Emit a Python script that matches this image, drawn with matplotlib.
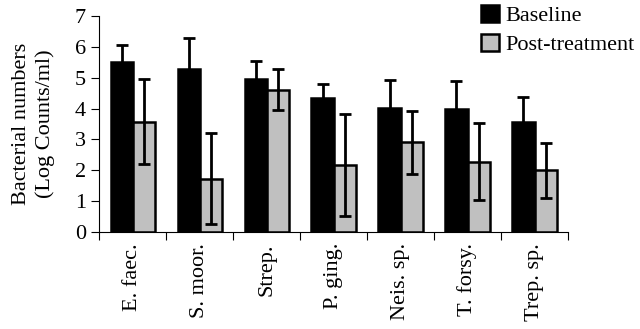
import numpy as np
import matplotlib.pyplot as plt
import matplotlib

matplotlib.rcParams['font.family'] = 'Liberation Serif'

# Dati
species = ['E. faec.', 'S. moor.', 'Strep.', 'P. ging.', 'Neis. sp.', 'T. forsy.', 'Trep. sp.']
baseline = [5.50, 5.28, 4.95, 4.36, 4.01, 3.99, 3.57]
baseline_err = [0.55, 1.02, 0.60, 0.43, 0.93, 0.91, 0.81]
post = [3.57, 1.73, 4.62, 2.18, 2.91, 2.28, 2.00]
post_err = [1.38, 1.47, 0.65, 1.65, 1.02, 1.24, 0.90]

x = np.arange(len(species))
w = 0.33

fig = plt.figure(figsize=(6.4, 3.29), dpi=100)
ax = fig.add_axes([0.155, 0.295, 0.7325, 0.656])
ax.spines['top'].set_visible(False)
ax.spines['right'].set_visible(False)

ekw = dict(elinewidth=2.0, capthick=2.0, ecolor='black')
ax.bar(x - w/2, baseline, w, color='black', edgecolor='black', linewidth=1.8,
       yerr=baseline_err, capsize=4, error_kw=ekw, label='Baseline')
ax.bar(x + w/2, post, w, color='#c0c0c0', edgecolor='black', linewidth=1.8,
       yerr=post_err, capsize=4, error_kw=ekw, label='Post-treatment')

ax.set_xlim(-0.5, len(species) - 0.5)
ax.set_ylim(0, 7)
ax.set_yticks(range(0, 8))
ax.set_xticks(np.arange(len(species) + 1) - 0.5)
ax.set_xticklabels([])
ax.set_xticks(x, minor=True)
ax.set_xticklabels(species, minor=True, rotation=90, fontsize=16)
ax.tick_params(axis='x', which='minor', length=0, pad=8)
ax.tick_params(axis='x', which='major', length=6, direction='out')
ax.tick_params(axis='y', labelsize=16, length=6)
ax.set_ylabel('Bacterial numbers\n(Log Counts/ml)', fontsize=16, linespacing=1.35, labelpad=14)

fig.legend(loc='upper right', bbox_to_anchor=(1.023, 1.045), fontsize=16, frameon=False,
           handlelength=0.8, handleheight=0.8, handletextpad=0.3, labelspacing=0.35)

plt.savefig('out.png', dpi=100)
